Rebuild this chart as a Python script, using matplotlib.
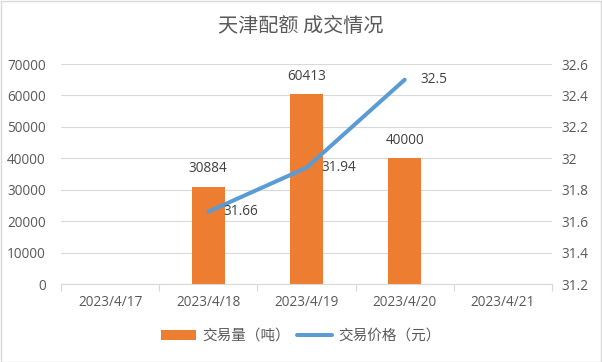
import matplotlib
matplotlib.use('Agg')
import matplotlib.pyplot as plt
import numpy as np
from matplotlib.patches import Rectangle

plt.rcParams['font.family'] = ['Open Sans', 'Noto Sans CJK SC', 'DejaVu Sans']

dates = ['2023/4/17', '2023/4/18', '2023/4/19', '2023/4/20', '2023/4/21']
volume = [np.nan, 30884, 60413, 40000, np.nan]
price = [np.nan, 31.66, 31.94, 32.5, np.nan]

title = '天津配额 成交情况'
bar_name = '交易量（吨）'
line_name = '交易价格（元）'

orange = '#ED7D31'
blue = '#5B9BD5'
grid = '#D9D9D9'
text_c = '#595959'

fig = plt.figure(figsize=(6.02, 3.62), dpi=100)
fig.patches.append(Rectangle((0.5 / 602, 0.5 / 362), 1 - 1.5 / 602, 1 - 1.5 / 362,
                             transform=fig.transFigure, fill=False,
                             edgecolor=grid, linewidth=1))

ax = fig.add_axes([61 / 602, 78 / 362, 491 / 602, 220 / 362])
x = np.arange(len(dates))
vol = np.array(volume, dtype=float)
pr = np.array(price, dtype=float)

mb = ~np.isnan(vol)
bars = ax.bar(x[mb], vol[mb], width=0.33, color=orange, zorder=2, label=bar_name)
for xi, v in zip(x[mb], vol[mb]):
    ax.annotate(f'{int(v)}', (xi, v), xytext=(0, 13), textcoords='offset points',
                ha='center', va='center', fontsize=9.8, color='#404040')

ax.set_xlim(-0.5, len(dates) - 0.5)
ax.set_ylim(0, 70000)
ax.set_yticks(np.arange(0, 70001, 10000))
ax.yaxis.grid(True, color=grid, linewidth=0.8, zorder=0)
ax.set_axisbelow(True)
ax.tick_params(axis='y', length=0, pad=11, labelsize=9.8, labelcolor=text_c)
ax.set_xticks(np.arange(-0.5, len(dates), 1))
ax.set_xticklabels([])
ax.set_xticks(x, minor=True)
ax.set_xticklabels(dates, minor=True)
ax.tick_params(axis='x', which='major', length=5, color=grid, width=0.8)
ax.tick_params(axis='x', which='minor', length=0, pad=8, labelsize=9.8, labelcolor=text_c)
for s in ['top', 'left', 'right']:
    ax.spines[s].set_visible(False)
ax.spines['bottom'].set_color(grid)
ax.spines['bottom'].set_linewidth(0.8)

ax2 = ax.twinx()
mp = ~np.isnan(pr)
line, = ax2.plot(x[mp], pr[mp], color=blue, linewidth=2.9, solid_capstyle='round',
                 zorder=3, label=line_name)
for xi, v in zip(x[mp], pr[mp]):
    ax2.annotate(f'{v:g}', (xi, v), xytext=(11, 0), textcoords='offset points',
                 ha='left', va='center', fontsize=9.8, color='#404040')
ax2.set_ylim(31.2, 32.6)
ax2.set_yticks(np.round(np.arange(31.2, 32.61, 0.2), 1))
ax2.set_yticklabels([f'{v:g}' for v in np.round(np.arange(31.2, 32.61, 0.2), 1)])
ax2.tick_params(axis='y', length=0, pad=7, labelsize=9.8, labelcolor=text_c)
for s in ['top', 'left', 'right', 'bottom']:
    ax2.spines[s].set_visible(False)

fig.text(0.5, 1 - 27 / 362, title, ha='center', va='center', fontsize=14.5,
         color=text_c, family=['Noto Sans CJK SC'])

fig.legend(handles=[bars, line], labels=[bar_name, line_name], loc='center',
           bbox_to_anchor=(0.5, 1 - 336 / 362), ncol=2, frameon=False,
           labelcolor=text_c, handlelength=2.4, handleheight=0.7,
           columnspacing=0.5, handletextpad=0.4,
           prop={'family': ['Noto Sans CJK SC'], 'size': 10.5})

fig.savefig('out.png', dpi=100)
